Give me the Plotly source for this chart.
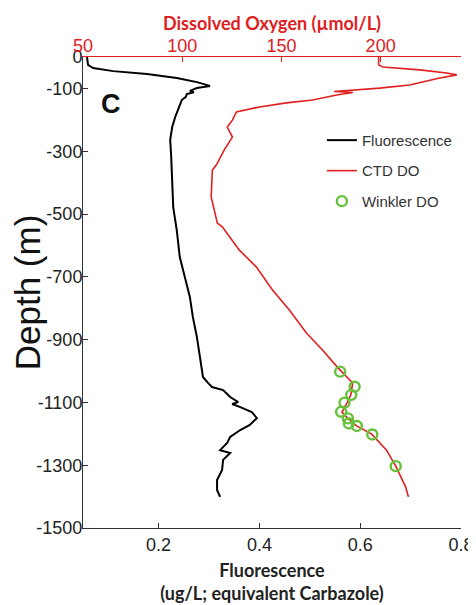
import plotly.graph_objects as go

# ---- Fluorescence profile (bottom axis) ----
fl_depth = [0, -25, -35, -45, -54, -67, -80, -89, -92, -99, -108, -112, -118, -127, -137,
            -162, -191, -223, -264, -318, -401, -478, -551, -637, -701, -764, -828, -892,
            -955, -1019, -1038, -1051, -1061, -1083, -1099, -1105, -1115, -1131, -1150,
            -1172, -1188, -1210, -1229, -1252, -1261, -1283, -1315, -1347, -1379, -1401]
fl_value = [0.058, 0.060, 0.070, 0.110, 0.177, 0.236, 0.276, 0.298, 0.302, 0.276, 0.262,
            0.270, 0.256, 0.254, 0.246, 0.240, 0.233, 0.227, 0.223, 0.225, 0.227, 0.229,
            0.236, 0.242, 0.252, 0.262, 0.268, 0.276, 0.282, 0.288, 0.298, 0.306, 0.328,
            0.342, 0.358, 0.346, 0.362, 0.385, 0.395, 0.381, 0.362, 0.342, 0.336, 0.322,
            0.342, 0.328, 0.326, 0.316, 0.316, 0.322]

# ---- CTD dissolved oxygen profile (top axis) ----
do_depth = [0, -25, -32, -41, -51, -57, -67, -89, -99, -105, -110, -113, -121, -137, -146,
            -159, -175, -201, -223, -255, -296, -344, -360, -446, -529, -541, -615, -669,
            -742, -806, -879, -933, -990, -1038, -1076, -1102, -1131, -1150, -1175, -1201,
            -1252, -1303, -1369, -1401]
do_value = [199.0, 199.0, 201.0, 219.7, 233.3, 238.4, 229.8, 214.6, 199.5, 185.9, 176.5,
            186.0, 177.8, 165.7, 152.5, 138.9, 127.3, 125.3, 122.7, 125.3, 121.2, 117.2,
            115.2, 114.6, 117.7, 120.2, 128.8, 137.4, 145.5, 154.0, 162.6, 170.7, 178.5,
            185.9, 185.0, 183.0, 180.5, 183.3, 187.9, 195.5, 203.0, 207.6, 212.6, 214.0]

# ---- Winkler titration samples ----
wk_depth = [-1002, -1050, -1076, -1101, -1130, -1151, -1167, -1175, -1202, -1303]
wk_value = [179.6, 186.9, 185.2, 181.8, 180.1, 183.5, 184.0, 188.0, 195.8, 207.6]

# ---- ticks ----
depth_ticks = [0, -100, -300, -500, -700, -900, -1100, -1300, -1500]
depth_labels = ["0", "-100", "-300", "-500", "-700", "-900", "-1100", "-1300", "-1500"]
fl_ticks = [0.2, 0.4, 0.6, 0.8]
fl_labels = ["0.2", "0.4", "0.6", "0.8"]
do_ticks = [50, 100, 150, 200]
do_labels = ["50", "100", "150", "200"]

RED = "#e0201f"
GREEN = "#66c23a"
TICKFONT = dict(family="Liberation Sans, Arial", size=18, color="#222")

fig = go.Figure()
fig.add_trace(go.Scatter(x=fl_value, y=fl_depth, mode="lines", name="Fluorescence",
                         line=dict(color="black", width=2), xaxis="x", yaxis="y",
                         legendgroup="a"))
fig.add_trace(go.Scatter(x=do_value, y=do_depth, mode="lines", name="CTD DO",
                         line=dict(color=RED, width=1.6), xaxis="x2", yaxis="y",
                         legendgroup="b"))
fig.add_trace(go.Scatter(x=wk_value, y=wk_depth, mode="markers", name="Winkler DO",
                         marker=dict(symbol="circle-open", size=10, color=GREEN,
                                     line=dict(width=2.4, color=GREEN)),
                         xaxis="x2", yaxis="y", legendgroup="c"))

fig.update_layout(
    width=468, height=597,
    margin=dict(l=75, r=15, t=49, b=77),
    paper_bgcolor="white", plot_bgcolor="white",
    xaxis=dict(range=[0.05, 0.8], tickvals=fl_ticks, ticktext=fl_labels,
               ticks="inside", ticklen=5, tickcolor="#333", showline=True,
               linecolor="#333", linewidth=1, showgrid=False, zeroline=False,
               tickfont=TICKFONT, automargin=False,
               title=dict(text="Fluorescence<br>(ug/L; equivalent Carbazole)",
                          font=dict(family="Lato", size=18, weight="bold", color="#222"),
                          standoff=10)),
    xaxis2=dict(range=[50, 240.5], overlaying="x", side="top", tickvals=do_ticks,
                ticktext=do_labels, ticks="inside", ticklen=5, tickcolor=RED,
                showline=True, linecolor=RED, linewidth=1, showgrid=False,
                zeroline=False, automargin=False, ticklabelstandoff=-3,
                tickfont=dict(family="Liberation Sans, Arial", size=18, color=RED),
                title=dict(text="Dissolved Oxygen (µmol/L)",
                           font=dict(family="Lato", size=18, weight="bold", color=RED),
                           standoff=0)),
    yaxis=dict(range=[-1500, 0], tickvals=depth_ticks, ticktext=depth_labels,
               ticks="inside", ticklen=5, tickcolor="#333", showline=True,
               linecolor="#333", linewidth=1, showgrid=False, zeroline=False,
               tickfont=TICKFONT, automargin=False, ticklabelstandoff=-4,
               title=dict(text="Depth (m)",
                          font=dict(family="Liberation Sans, Arial", size=35, color="#111"),
                          standoff=0)),
    yaxis2=dict(range=[-1500, 0], overlaying="y", side="right", tickvals=depth_ticks,
                ticks="inside", ticklen=5, tickcolor=RED, showline=True,
                linecolor=RED, linewidth=1, showgrid=False, zeroline=False,
                showticklabels=False, automargin=False),
    legend=dict(x=0.632, y=0.858, xanchor="left", yanchor="top", bgcolor="rgba(0,0,0,0)",
                font=dict(family="Liberation Sans, Arial", size=15, color="#333"),
                tracegroupgap=8),
    showlegend=True,
    annotations=[dict(text="C", xref="paper", yref="paper", x=0.074, y=0.9,
                      xanchor="center", yanchor="middle", showarrow=False,
                      font=dict(family="Liberation Sans, Arial", size=27, weight="bold",
                                color="#111"))],
)

fig.write_html("out.html")
